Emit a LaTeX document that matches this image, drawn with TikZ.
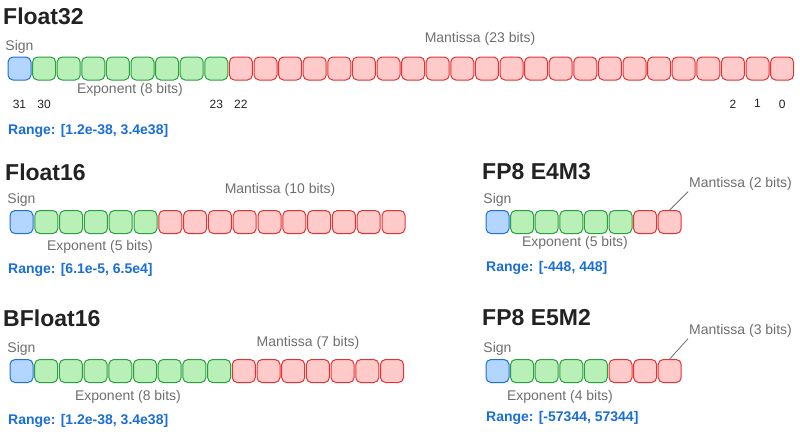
\documentclass[tikz,border=0pt]{standalone}
\usepackage{fontspec}
\setmainfont{Liberation Sans}
\usetikzlibrary{positioning, calc}

\definecolor{signfill}{RGB}{178,214,255}
\definecolor{signline}{RGB}{30,110,220}
\definecolor{expfill}{RGB}{184,240,184}
\definecolor{expline}{RGB}{40,160,60}
\definecolor{manfill}{RGB}{255,202,202}
\definecolor{manline}{RGB}{228,50,50}
\definecolor{rangeblue}{RGB}{25,110,215}
\definecolor{labelgray}{RGB}{110,110,110}
\definecolor{titlegray}{RGB}{34,34,34}

\begin{document}
\begin{tikzpicture}[
    x=1pt, y=-1pt,
    font=\fontsize{12}{14}\selectfont,
    bit/.style={
        rectangle,
        rounded corners=5pt,
        minimum size=23pt,
        inner sep=0pt,
        line width=1pt
    },
    signbit/.style={bit, draw=signline, fill=signfill},
    expbit/.style={bit, draw=expline, fill=expfill},
    manbit/.style={bit, draw=manline, fill=manfill},
    fmttitle/.style={font=\fontsize{23}{27}\selectfont\bfseries, text=titlegray, anchor=west, inner sep=0pt},
    partlabel/.style={font=\fontsize{14}{16}\selectfont, text=labelgray, inner sep=1pt},
    rangetext/.style={font=\fontsize{14}{16}\selectfont\bfseries, text=rangeblue, anchor=west, inner sep=0pt},
    bitidx/.style={font=\fontsize{12}{14}\selectfont, text=titlegray, inner sep=1pt},
    leader/.style={draw=labelgray, line width=0.8pt}
]
    \useasboundingbox (0,0) rectangle (800,440);

    % Float32
    \node[fmttitle] (t32) at (3,16) {Float32};
    \node[signbit] (a0) at (19.5,68.5) {};
    \foreach \i in {1,...,8} \node[expbit] (a\i) at ({19.5+24.6*\i},68.5) {};
    \foreach \i in {9,...,31} \node[manbit] (a\i) at ({19.5+24.6*\i},68.5) {};
    \node[partlabel, above=2pt of a0] (s32) {Sign};
    \node[partlabel] (m32) at (480,39) {Mantissa (23 bits)};
    \node[partlabel] (e32) at (130,90) {Exponent (8 bits)};
    \node[bitidx, below=18pt of a0] {31};
    \node[bitidx, below=18pt of a1] {30};
    \node[bitidx, below=18pt of a8] {23};
    \node[bitidx, below=18pt of a9] {22};
    \node[bitidx, below=18pt of a29] {2};
    \node[bitidx, below=18pt of a30] {1};
    \node[bitidx, below=18pt of a31] {0};
    \node[rangetext] (r32) at (8,131) {Range: [1.2e-38, 3.4e38]};

    % Float16
    \node[fmttitle] (t16) at (5,172) {Float16};
    \node[signbit] (b0) at (21.5,222) {};
    \foreach \i in {1,...,5} \node[expbit] (b\i) at ({21.5+24.8*\i},222) {};
    \foreach \i in {6,...,15} \node[manbit] (b\i) at ({21.5+24.8*\i},222) {};
    \node[partlabel, above=2pt of b0] (s16) {Sign};
    \node[partlabel] (m16) at (280,190) {Mantissa (10 bits)};
    \node[partlabel] (e16) at (100,247) {Exponent (5 bits)};
    \node[rangetext] (r16) at (8,270) {Range: [6.1e-5, 6.5e4]};

    % FP8 E4M3
    \node[fmttitle] (tq) at (482,172) {FP8 E4M3};
    \node[signbit] (c0) at (497.5,222) {};
    \foreach \i in {1,...,5} \node[expbit] (c\i) at ({497.5+24.6*\i},222) {};
    \foreach \i in {6,7} \node[manbit] (c\i) at ({497.5+24.6*\i},222) {};
    \node[partlabel, above=2pt of c0] (sq) {Sign};
    \node[partlabel, anchor=west] (mq) at (688,184) {Mantissa (2 bits)};
    \node[partlabel] (eq) at (575,243) {Exponent (5 bits)};
    \node[rangetext] (rq) at (486,268) {Range: [-448, 448]};
    \draw[leader] (mq.south west) -- (c7.north);

    % BFloat16
    \node[fmttitle] (tb) at (3,318) {BFloat16};
    \node[signbit] (d0) at (21.5,371) {};
    \foreach \i in {1,...,8} \node[expbit] (d\i) at ({21.5+24.7*\i},371) {};
    \foreach \i in {9,...,15} \node[manbit] (d\i) at ({21.5+24.7*\i},371) {};
    \node[partlabel, above=2pt of d0] (sb) {Sign};
    \node[partlabel] (mb) at (308,343) {Mantissa (7 bits)};
    \node[partlabel] (eb) at (128,397) {Exponent (8 bits)};
    \node[rangetext] (rb) at (8,421) {Range: [1.2e-38, 3.4e38]};

    % FP8 E5M2
    \node[fmttitle] (tp) at (482,318) {FP8 E5M2};
    \node[signbit] (e0) at (497.5,371) {};
    \foreach \i in {1,...,4} \node[expbit] (e\i) at ({497.5+24.6*\i},371) {};
    \foreach \i in {5,6,7} \node[manbit] (e\i) at ({497.5+24.6*\i},371) {};
    \node[partlabel, above=2pt of e0] (sp) {Sign};
    \node[partlabel, anchor=west] (mp) at (688,331) {Mantissa (3 bits)};
    \node[partlabel] (ep) at (560,397) {Exponent (4 bits)};
    \node[rangetext] (rp) at (486,418) {Range: [-57344, 57344]};
    \draw[leader] (mp.south west) -- (e7.north);

\end{tikzpicture}
\end{document}
